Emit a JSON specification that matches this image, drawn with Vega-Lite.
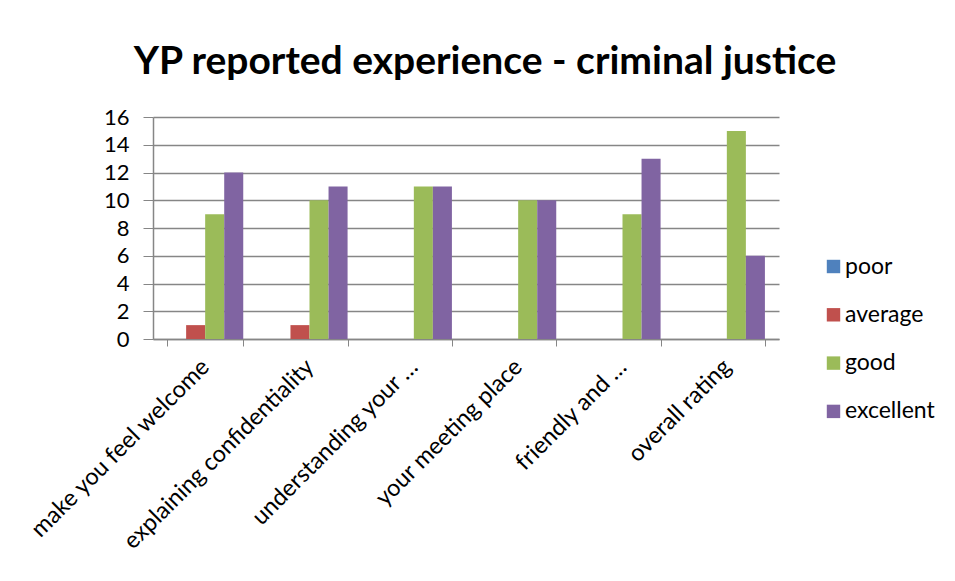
{
  "$schema": "https://vega.github.io/schema/vega-lite/v6.json",
  "width": 626,
  "height": 222,
  "autosize": {"type": "none"},
  "padding": {"left": 153, "top": 117, "right": 176, "bottom": 242},
  "background": "white",
  "title": {
    "text": "YP reported experience - criminal justice",
    "font": "Lato",
    "fontSize": 39,
    "fontWeight": "bold",
    "color": "#000000",
    "anchor": "middle",
    "dx": 19,
    "offset": 24
  },
  "data": {
    "values": [
      {"item": "make you feel welcome", "rating": "poor", "count": 0},
      {"item": "make you feel welcome", "rating": "average", "count": 1},
      {"item": "make you feel welcome", "rating": "good", "count": 9},
      {"item": "make you feel welcome", "rating": "excellent", "count": 12},
      {"item": "explaining confidentiality", "rating": "poor", "count": 0},
      {"item": "explaining confidentiality", "rating": "average", "count": 1},
      {"item": "explaining confidentiality", "rating": "good", "count": 10},
      {"item": "explaining confidentiality", "rating": "excellent", "count": 11},
      {"item": "understanding your …", "rating": "poor", "count": 0},
      {"item": "understanding your …", "rating": "average", "count": 0},
      {"item": "understanding your …", "rating": "good", "count": 11},
      {"item": "understanding your …", "rating": "excellent", "count": 11},
      {"item": "your meeting place", "rating": "poor", "count": 0},
      {"item": "your meeting place", "rating": "average", "count": 0},
      {"item": "your meeting place", "rating": "good", "count": 10},
      {"item": "your meeting place", "rating": "excellent", "count": 10},
      {"item": "friendly and …", "rating": "poor", "count": 0},
      {"item": "friendly and …", "rating": "average", "count": 0},
      {"item": "friendly and …", "rating": "good", "count": 9},
      {"item": "friendly and …", "rating": "excellent", "count": 13},
      {"item": "overall rating", "rating": "poor", "count": 0},
      {"item": "overall rating", "rating": "average", "count": 0},
      {"item": "overall rating", "rating": "good", "count": 15},
      {"item": "overall rating", "rating": "excellent", "count": 6}
    ]
  },
  "mark": {"type": "bar"},
  "encoding": {
    "x": {
      "field": "item",
      "type": "nominal",
      "sort": null,
      "title": null,
      "scale": {"paddingInner": 0.27, "paddingOuter": 0.135},
      "axis": {
        "labelAngle": -45,
        "labelAlign": "right",
        "labelBaseline": "middle",
        "labelFont": "Lato",
        "labelFontSize": 23.5,
        "labelColor": "#000000",
        "labelPadding": 17,
        "labelLimit": 400,
        "tickBand": "extent",
        "tickColor": "#868686",
        "tickSize": 7,
        "domainColor": "#868686",
        "domainWidth": 1.5,
        "grid": false
      }
    },
    "xOffset": {
      "field": "rating",
      "type": "nominal",
      "sort": ["poor", "average", "good", "excellent"],
      "scale": {"paddingInner": 0, "paddingOuter": 0}
    },
    "y": {
      "field": "count",
      "type": "quantitative",
      "title": null,
      "scale": {"domain": [0, 16], "nice": false},
      "axis": {
        "values": [0, 2, 4, 6, 8, 10, 12, 14, 16],
        "labelFont": "Lato",
        "labelFontSize": 22,
        "labelColor": "#000000",
        "labelPadding": 14,
        "tickColor": "#868686",
        "tickSize": 10,
        "domainColor": "#868686",
        "domainWidth": 1.5,
        "gridColor": "#868686",
        "gridWidth": 1.5
      }
    },
    "color": {
      "field": "rating",
      "type": "nominal",
      "sort": ["poor", "average", "good", "excellent"],
      "scale": {
        "domain": ["poor", "average", "good", "excellent"],
        "range": ["#4F81BD", "#C0504D", "#9BBB59", "#8064A2"]
      },
      "legend": {
        "title": null,
        "orient": "none",
        "legendX": 669,
        "legendY": 138,
        "symbolType": "square",
        "symbolSize": 180,
        "symbolStrokeWidth": 0,
        "labelFont": "Lato",
        "labelFontSize": 23,
        "labelColor": "#000000",
        "labelOffset": 0,
        "rowPadding": 24.3
      }
    }
  },
  "config": {
    "view": {"stroke": null},
    "axis": {"labelFlush": false}
  }
}
